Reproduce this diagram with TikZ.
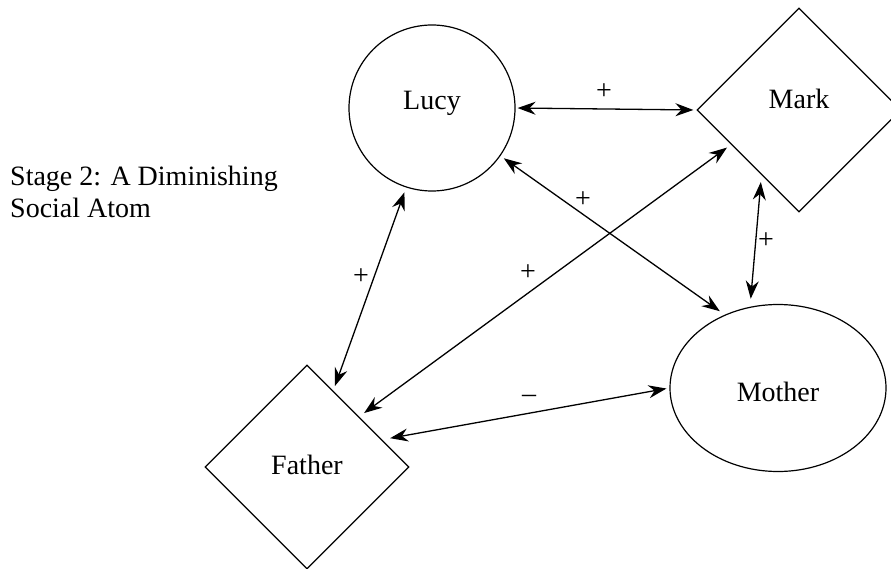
\documentclass[tikz,border=0pt]{standalone}
\usepackage{fontspec}
\setmainfont{Liberation Serif}
\usetikzlibrary{shapes.geometric,arrows.meta}
\begin{document}
\begin{tikzpicture}[x=1pt,y=-1pt,
  txt/.style={font=\fontsize{28}{32}\selectfont},
  person/.style={draw, line width=1.2pt, inner sep=0pt, txt},
  rel/.style={arrows={Stealth[length=18pt,width=13pt,inset=6pt]-Stealth[length=18pt,width=13pt,inset=6pt]}, line width=1.3pt},
  sign/.style={txt, inner sep=0pt}]
\useasboundingbox (0,0) rectangle (891,569);
\node[person, circle, minimum size=166pt, text height=20pt, text depth=16pt] (lucy) at (432,108) {Lucy};
\node[person, diamond, aspect=1, minimum size=204pt, text height=20pt, text depth=22pt] (mark) at (799,110) {Mark};
\node[person, ellipse, minimum width=216pt, minimum height=167pt, text height=26pt, text depth=0pt] (mother) at (778,388) {Mother};
\node[person, diamond, aspect=1, minimum size=204pt, text height=20pt, text depth=6pt] (father) at (307,467) {Father};
\node[txt, align=left, anchor=north west, inner sep=0pt] (title) at (10,166) {Stage 2: A Diminishing\\Social Atom};
\draw[rel, shorten <=2pt, shorten >=3pt] (lucy.east) -- (mark.west);
\draw[rel, shorten <=5pt, shorten >=5pt] (lucy.252) -- (father.71);
\draw[rel, shorten <=4pt, shorten >=6pt] (lucy.-35) -- (mother.126);
\draw[rel, shorten <=5pt, shorten >=6pt] (mark.207) -- (father.44.5);
\draw[rel, shorten <=7pt, shorten >=8pt] (mark.-120) -- (mother.109);
\draw[rel, shorten <=8pt, shorten >=3pt] (father.20) -- (mother.180.5);
\node[sign] (s1) at (604,92) {+};
\node[sign] (s2) at (361,277) {+};
\node[sign] (s3) at (583,200) {+};
\node[sign] (s4) at (528,273) {+};
\node[sign] (s5) at (766,241) {+};
\node[sign] (s6) at (529,399) {--};
\end{tikzpicture}
\end{document}
